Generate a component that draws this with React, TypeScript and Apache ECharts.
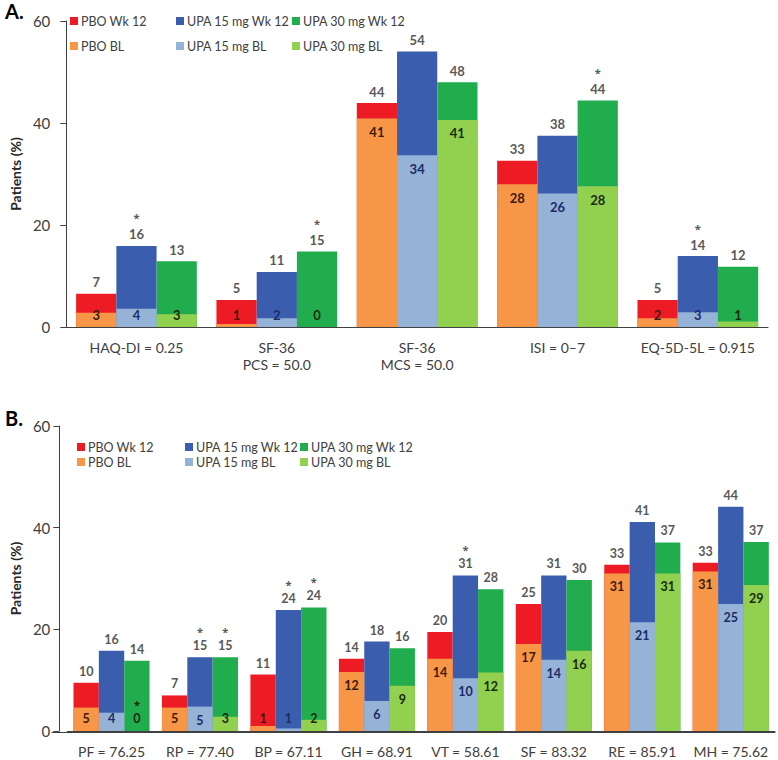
import React, { useEffect, useRef } from "react";
import * as echarts from "echarts";

// ---------- Panel A data ----------
const categoriesA = ["HAQ-DI = 0.25", "SF-36\nPCS = 50.0", "SF-36\nMCS = 50.0", "ISI = 0–7", "EQ-5D-5L = 0.915"];
const pboWk12A = [6.5, 5.3, 43.9, 32.6, 5.3];
const pboBLA = [2.8, 0.6, 40.9, 28.0, 1.7];
const upa15Wk12A = [15.9, 10.8, 54.0, 37.5, 13.9];
const upa15BLA = [3.6, 1.7, 33.7, 26.2, 2.9];
const upa30Wk12A = [12.9, 14.8, 48.0, 44.4, 11.8];
const upa30BLA = [2.5, 0, 40.6, 27.6, 1.1];
const sigUpa15Wk12A = [1, 0, 0, 0, 1];
const sigUpa30Wk12A = [0, 1, 0, 1, 0];

// ---------- Panel B data ----------
const categoriesB = ["PF = 76.25", "RP = 77.40", "BP = 67.11", "GH = 68.91", "VT = 58.61", "SF = 83.32", "RE = 85.91", "MH = 75.62"];
const pboWk12B = [9.5, 7.0, 11.1, 14.2, 19.5, 25.0, 32.7, 33.1];
const pboBLB = [4.6, 4.6, 1.0, 11.6, 14.2, 17.1, 31.0, 31.4];
const upa15Wk12B = [15.8, 14.5, 23.8, 17.6, 30.6, 30.6, 41.1, 44.1];
const upa15BLB = [3.6, 4.8, 0.5, 5.9, 10.4, 14.0, 21.4, 25.0];
const upa30Wk12B = [13.8, 14.5, 24.3, 16.3, 27.9, 29.7, 37.1, 37.2];
const upa30BLB = [0, 2.8, 2.2, 8.9, 11.5, 15.8, 31.0, 28.7];
const sigUpa15Wk12B = [0, 1, 1, 0, 1, 0, 0, 0];
const sigUpa30Wk12B = [0, 1, 1, 0, 0, 0, 0, 0];
const sigUpa30BLB = [1, 0, 0, 0, 0, 0, 0, 0];
const noSig = [0, 0, 0, 0, 0, 0, 0, 0];

const yTicks = { min: 0, max: 60, interval: 20 };

const NAMES = {
  pboWk: "PBO Wk 12",
  u15Wk: "UPA 15 mg Wk 12",
  u30Wk: "UPA 30 mg Wk 12",
  pboBL: "PBO BL",
  u15BL: "UPA 15 mg BL",
  u30BL: "UPA 30 mg BL",
};
const COLORS = {
  pboWk: "#ED1C24",
  u15Wk: "#3A5DAE",
  u30Wk: "#21AD4E",
  pboBL: "#F79646",
  u15BL: "#95B3D7",
  u30BL: "#92D050",
};
const FONT = "Lato, 'Open Sans', sans-serif";
const STAR_FONT = "'Open Sans', 'DejaVu Sans', sans-serif";

function wkSeries(name: string, color: string, data: number[], sig: number[], xIdx: number, yIdx: number, fs: number, sLH: number) {
  return {
    type: "bar",
    name,
    xAxisIndex: xIdx,
    yAxisIndex: yIdx,
    data,
    barGap: "0%",
    barCategoryGap: "14%",
    itemStyle: { color },
    z: 2,
    label: {
      show: true,
      position: "top",
      distance: 4,
      formatter: (p: any) => {
        const v = Math.round(p.value);
        return sig[p.dataIndex] ? `{s|*}\n{v|${v}}` : `{v|${v}}`;
      },
      rich: {
        v: { fontFamily: FONT, fontSize: fs, fontWeight: "bold", color: "#595959", lineHeight: 15 },
        s: { fontFamily: STAR_FONT, fontSize: 11, fontWeight: "bold", color: "#595959", lineHeight: sLH },
      },
    },
  };
}

function blSeries(name: string, color: string, data: number[], sig: number[], labelColor: string, xIdx: number, yIdx: number, fs: number) {
  return {
    type: "bar",
    name,
    xAxisIndex: xIdx,
    yAxisIndex: yIdx,
    barGap: "0%",
    barCategoryGap: "14%",
    itemStyle: { color },
    z: 3,
    data: data.map((v) => ({
      value: v,
      label: v < 4.7 ? { position: "insideBottom", distance: 5 } : { position: "insideTop", distance: 6 },
    })),
    label: {
      show: true,
      formatter: (p: any) => {
        const v = Math.round(p.value);
        return sig[p.dataIndex] ? `{s|*}\n{v|${v}}` : `{v|${v}}`;
      },
      rich: {
        v: { fontFamily: FONT, fontSize: fs, fontWeight: "bold", color: labelColor, lineHeight: 15 },
        s: { fontFamily: STAR_FONT, fontSize: 11, fontWeight: "bold", color: labelColor, lineHeight: 14 },
      },
    },
  };
}

function legendCol(left: number, top: number, gap: number, names: string[]) {
  return {
    orient: "vertical",
    left,
    top,
    itemGap: gap,
    itemWidth: 8,
    itemHeight: 8,
    icon: "rect",
    selectedMode: false,
    padding: 0,
    textStyle: { fontFamily: FONT, fontSize: 12.5, color: "#404040", lineHeight: 14, padding: [0, 0, 0, -2] },
    data: names,
  };
}

function yAxisDef(gridIndex: number, offset: number, nameGap: number, labelMargin: number) {
  return {
    type: "value",
    gridIndex,
    ...yTicks,
    offset,
    name: "Patients (%)",
    nameLocation: "middle",
    nameGap,
    nameTextStyle: { fontFamily: FONT, fontSize: 14, fontWeight: "bold", color: "#262626" },
    axisLine: { show: true, lineStyle: { color: "#404040", width: 1 } },
    axisTick: { show: true, length: 6, lineStyle: { color: "#404040" } },
    axisLabel: { fontFamily: FONT, fontSize: 15, color: "#404040", margin: labelMargin },
    splitLine: { show: false },
  };
}

function catAxis(gridIndex: number, data: string[], show: boolean) {
  return {
    type: "category",
    gridIndex,
    data,
    show,
    axisLine: { show: true, onZero: false, lineStyle: { color: "#404040", width: 1 } },
    axisTick: { show: false },
    axisLabel: { fontFamily: FONT, fontSize: 14, color: "#404040", margin: 12, lineHeight: 17, interval: 0 },
  };
}

export default function App() {
  const ref = useRef<HTMLDivElement>(null);
  useEffect(() => {
    document.body.style.margin = "0";
    if (!ref.current) return;
    const chart = echarts.init(ref.current, undefined, { renderer: "svg" });
    const option: any = {
      animation: false,
      backgroundColor: "#ffffff",
      textStyle: { fontFamily: FONT },
      title: [
        { text: "A.", left: 0, top: -4, textStyle: { fontFamily: FONT, fontSize: 20, fontWeight: "bold", color: "#000" } },
        { text: "B.", left: 0, top: 403, textStyle: { fontFamily: FONT, fontSize: 20, fontWeight: "bold", color: "#000" } },
      ],
      legend: [
        legendCol(70, 14, 11, [NAMES.pboWk, NAMES.pboBL]),
        legendCol(176, 14, 11, [NAMES.u15Wk, NAMES.u15BL]),
        legendCol(292, 14, 11, [NAMES.u30Wk, NAMES.u30BL]),
        legendCol(77, 440, 1, [NAMES.pboWk, NAMES.pboBL]),
        legendCol(185, 440, 1, [NAMES.u15Wk, NAMES.u15BL]),
        legendCol(300, 440, 1, [NAMES.u30Wk, NAMES.u30BL]),
      ],
      grid: [
        { left: 59, right: 10, top: 21, bottom: 433 },
        { left: 60, right: 3, top: 426, bottom: 28 },
        { left: 52, right: 3, top: 426, bottom: 28 },
      ],
      xAxis: [
        catAxis(0, categoriesA, true),
        catAxis(0, categoriesA, false),
        catAxis(1, categoriesB, true),
        catAxis(1, categoriesB, false),
        {
          type: "value",
          gridIndex: 2,
          min: 0,
          max: 1,
          axisLine: { show: true, onZero: false, lineStyle: { color: "#404040", width: 1 } },
          axisTick: { show: false },
          axisLabel: { show: false },
          splitLine: { show: false },
        },
      ],
      yAxis: [
        yAxisDef(0, 0, 33, 16),
        yAxisDef(1, 8, 28, 9),
        { type: "value", gridIndex: 2, show: false, min: 0, max: 1 },
      ],
      series: [
        wkSeries(NAMES.pboWk, COLORS.pboWk, pboWk12A, [0, 0, 0, 0, 0], 0, 0, 13, 18),
        wkSeries(NAMES.u15Wk, COLORS.u15Wk, upa15Wk12A, sigUpa15Wk12A, 0, 0, 13, 18),
        wkSeries(NAMES.u30Wk, COLORS.u30Wk, upa30Wk12A, sigUpa30Wk12A, 0, 0, 13, 18),
        blSeries(NAMES.pboBL, COLORS.pboBL, pboBLA, [0, 0, 0, 0, 0], "#3d1a0a", 1, 0, 13),
        blSeries(NAMES.u15BL, COLORS.u15BL, upa15BLA, [0, 0, 0, 0, 0], "#1c2a66", 1, 0, 13),
        blSeries(NAMES.u30BL, COLORS.u30BL, upa30BLA, [0, 0, 0, 0, 0], "#1a2a0e", 1, 0, 13),
        wkSeries(NAMES.pboWk, COLORS.pboWk, pboWk12B, noSig, 2, 1, 12.5, 14),
        wkSeries(NAMES.u15Wk, COLORS.u15Wk, upa15Wk12B, sigUpa15Wk12B, 2, 1, 12.5, 14),
        wkSeries(NAMES.u30Wk, COLORS.u30Wk, upa30Wk12B, sigUpa30Wk12B, 2, 1, 12.5, 14),
        blSeries(NAMES.pboBL, COLORS.pboBL, pboBLB, noSig, "#3d1a0a", 3, 1, 12.5),
        blSeries(NAMES.u15BL, COLORS.u15BL, upa15BLB, noSig, "#1c2a66", 3, 1, 12.5),
        blSeries(NAMES.u30BL, COLORS.u30BL, upa30BLB, sigUpa30BLB, "#1a2a0e", 3, 1, 12.5),
      ],
    };
    chart.setOption(option);
    return () => chart.dispose();
  }, []);
  return <div ref={ref} style={{ width: 778, height: 760 }} />;
}
